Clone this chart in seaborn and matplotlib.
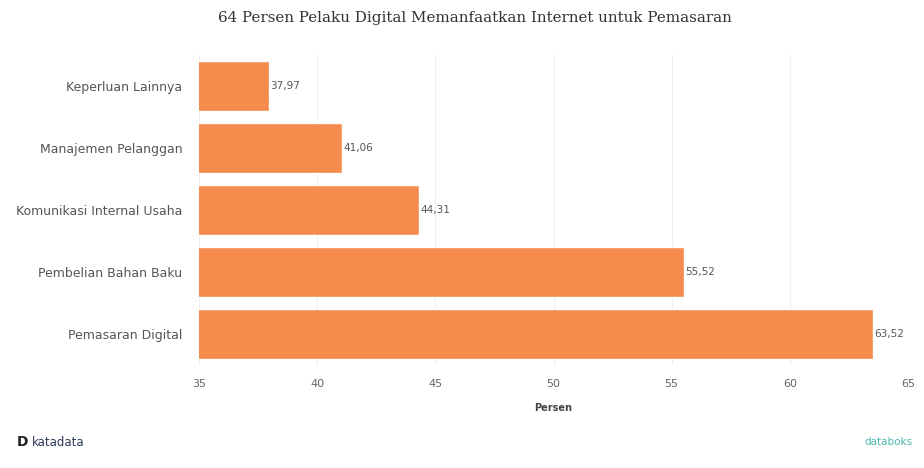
import numpy as np
import pandas as pd
import matplotlib
matplotlib.use("Agg")
import matplotlib.pyplot as plt
import seaborn as sns

# data
kategori = ["Keperluan Lainnya", "Manajemen Pelanggan", "Komunikasi Internal Usaha",
            "Pembelian Bahan Baku", "Pemasaran Digital"]
persen = [37.97, 41.06, 44.31, 55.52, 63.52]
xticks = [35, 40, 45, 50, 55, 60, 65]

df = pd.DataFrame({"kategori": kategori, "persen": persen})

sns.set_theme(style="white")
plt.rcParams["font.family"] = ["DejaVu Sans"]

fig = plt.figure(figsize=(9.24, 4.68), dpi=100)
ax = fig.add_axes([0.2154, 0.220, 0.7673, 0.6625])

sns.barplot(data=df, y="kategori", x="persen", color="#f58b4c", saturation=1,
            width=0.8, ax=ax, orient="h")

ax.set_xlim(35, 65)
ax.set_xticks(xticks)
ax.set_xticklabels([str(t) for t in xticks], fontsize=8, color="#666666")
ax.tick_params(axis="y", labelsize=9, labelcolor="#555555", length=0, pad=12)
ax.tick_params(axis="x", length=0, pad=10)
ax.grid(axis="x", color="#eeeeee", linewidth=0.8)
ax.set_axisbelow(True)
for s in ax.spines.values():
    s.set_visible(False)

for i, v in enumerate(persen):
    ax.text(v + 0.05, i, f"{v:.2f}".replace(".", ","), va="center", ha="left",
            fontsize=7.5, color="#555555")

ax.set_ylabel("")
ax.set_xlabel("Persen", fontsize=7, color="#444444", fontweight="bold", labelpad=10)

fig.text(0.514, 0.962, "64 Persen Pelaku Digital Memanfaatkan Internet untuk Pemasaran",
         ha="center", va="center", fontsize=10.9, family="DejaVu Serif", color="#333333")

fig.text(0.018, 0.055, "D", ha="left", va="center", fontsize=10, fontweight="bold",
         color="#222222")
fig.text(0.034, 0.055, "katadata", ha="left", va="center", fontsize=8.5,
         color="#2b3a55")
fig.text(0.935, 0.055, "databoks", ha="left", va="center", fontsize=7.5,
         color="#4bb8b0")

fig.savefig("out.png", dpi=100)
